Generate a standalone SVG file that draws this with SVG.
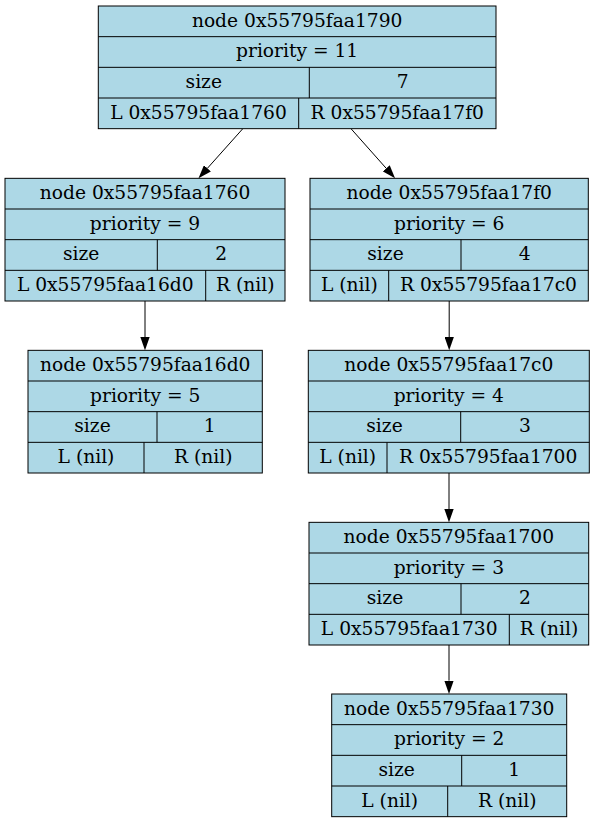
<svg xmlns="http://www.w3.org/2000/svg" width="595" height="823" viewBox="0 0 595 823">
<style>
.box{fill:#add8e6;stroke:#000;stroke-width:1}
.ln{stroke:#000;stroke-width:1;fill:none}
text{font-family:"DejaVu Serif",serif;font-size:18.67px;fill:#000;text-anchor:middle}
.edge{stroke:#000;stroke-width:1;fill:none;marker-end:url(#arr)}
</style>
<defs>
<marker id="arr" viewBox="0 0 13.33 9.33" refX="0" refY="4.67" markerWidth="13.33" markerHeight="9.33" markerUnits="userSpaceOnUse" orient="auto">
<path d="M0,0 L13.33,4.67 L0,9.33 z" fill="#000"/>
</marker>
</defs>
<rect width="595" height="823" fill="#fff"/>
<g id="edges">
<path class="edge" d="M242.8,128.7 L207.4,168.3"/>
<path class="edge" d="M351,128.7 L386.2,168.3"/>
<path class="edge" d="M145,301 L145,337"/>
<path class="edge" d="M449.2,301 L449.2,337"/>
<path class="edge" d="M449,473 L449,509"/>
<path class="edge" d="M449,645 L449,680.7"/>
</g>
<g id="n1790">
<rect class="box" x="98.3" y="6" width="397.7" height="122.67"/>
<path class="ln" d="M98.3,36.67H496M98.3,67.33H496M98.3,98H496M309.3,67.33V98M298.7,98V128.67"/>
<text x="297.15" y="26.7">node 0x55795faa1790</text>
<text x="297.15" y="57.3">priority = 11</text>
<text x="203.8" y="88">size</text>
<text x="402.7" y="88">7</text>
<text x="198.5" y="118.7">L 0x55795faa1760</text>
<text x="397.3" y="118.7">R 0x55795faa17f0</text>
</g>
<g id="n1760">
<rect class="box" x="5" y="178.33" width="280" height="122.67"/>
<path class="ln" d="M5,209H285M5,239.67H285M5,270.33H285M157.3,239.67V270.33M205.7,270.33V301"/>
<text x="145" y="199">node 0x55795faa1760</text>
<text x="145" y="229.7">priority = 9</text>
<text x="81.2" y="260.3">size</text>
<text x="221.2" y="260.3">2</text>
<text x="105.3" y="291">L 0x55795faa16d0</text>
<text x="245.3" y="291">R (nil)</text>
</g>
<g id="n17f0">
<rect class="box" x="310" y="178.33" width="278.3" height="122.67"/>
<path class="ln" d="M310,209H588.3M310,239.67H588.3M310,270.33H588.3M461,239.67V270.33M388.7,270.33V301"/>
<text x="449.2" y="199">node 0x55795faa17f0</text>
<text x="449.2" y="229.7">priority = 6</text>
<text x="385.5" y="260.3">size</text>
<text x="524.7" y="260.3">4</text>
<text x="349.3" y="291">L (nil)</text>
<text x="488.5" y="291">R 0x55795faa17c0</text>
</g>
<g id="n16d0">
<rect class="box" x="28" y="350.33" width="234.3" height="122.67"/>
<path class="ln" d="M28,381H262.3M28,411.67H262.3M28,442.33H262.3M157,411.67V442.33M144,442.33V473"/>
<text x="145.2" y="371">node 0x55795faa16d0</text>
<text x="145.2" y="401.7">priority = 5</text>
<text x="92.5" y="432.3">size</text>
<text x="209.7" y="432.3">1</text>
<text x="86" y="463">L (nil)</text>
<text x="203.2" y="463">R (nil)</text>
</g>
<g id="n17c0">
<rect class="box" x="308.3" y="350.33" width="281" height="122.67"/>
<path class="ln" d="M308.3,381H589.3M308.3,411.67H589.3M308.3,442.33H589.3M460.7,411.67V442.33M387,442.33V473"/>
<text x="448.8" y="371">node 0x55795faa17c0</text>
<text x="448.8" y="401.7">priority = 4</text>
<text x="384.5" y="432.3">size</text>
<text x="525" y="432.3">3</text>
<text x="347.7" y="463">L (nil)</text>
<text x="488.2" y="463">R 0x55795faa1700</text>
</g>
<g id="n1700">
<rect class="box" x="309" y="522.33" width="279.7" height="122.67"/>
<path class="ln" d="M309,553H588.7M309,583.67H588.7M309,614.33H588.7M461,583.67V614.33M509.3,614.33V645"/>
<text x="448.85" y="543">node 0x55795faa1700</text>
<text x="448.85" y="573.7">priority = 3</text>
<text x="385" y="604.3">size</text>
<text x="524.85" y="604.3">2</text>
<text x="409.2" y="635">L 0x55795faa1730</text>
<text x="549" y="635">R (nil)</text>
</g>
<g id="n1730">
<rect class="box" x="331.7" y="694" width="235" height="122.67"/>
<path class="ln" d="M331.7,724.67H566.7M331.7,755.33H566.7M331.7,786H566.7M461.7,755.33V786M447.7,786V816.67"/>
<text x="449.2" y="714.7">node 0x55795faa1730</text>
<text x="449.2" y="745.3">priority = 2</text>
<text x="396.7" y="776">size</text>
<text x="514.2" y="776">1</text>
<text x="389.7" y="806.7">L (nil)</text>
<text x="507.2" y="806.7">R (nil)</text>
</g>
</svg>
